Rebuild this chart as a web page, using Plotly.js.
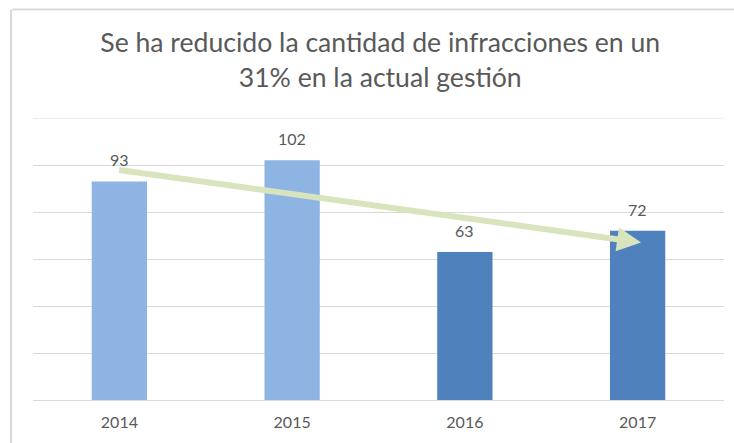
<!DOCTYPE html>
<html>
<head>
<meta charset="utf-8">
<script src="https://cdn.plot.ly/plotly-3.0.1.min.js"></script>
<style>
html,body{margin:0;padding:0;background:#fff;}
#chart{width:734px;height:443px;}
</style>
</head>
<body>
<div id="chart"></div>
<script>
var years = ['2014', '2015', '2016', '2017'];
var values = [93, 102, 63, 72];
var barColors = ['#8EB4E3', '#8EB4E3', '#4F81BD', '#4F81BD'];
var titleText = 'Se ha reducido la cantidad de infracciones en un<br>31% en la actual gestión';
var yMax = 120;
var trendStart = {x: -0.01, y: 98};
var trendEnd = {x: 3.02, y: 67};

var font = 'Lato, "Open Sans", sans-serif';

var trace = {
  type: 'bar',
  x: years,
  y: values,
  marker: {color: barColors, line: {width: 0}},
  hoverinfo: 'skip'
};

var labelAnns = years.map(function (yr, i) {
  return {
    x: i, y: values[i], xref: 'x', yref: 'y',
    text: String(values[i]), showarrow: false,
    yanchor: 'bottom', yshift: 10,
    font: {family: font, size: 16, color: '#595959'}
  };
});

var arrowAnn = {
  x: trendEnd.x, y: trendEnd.y, xref: 'x', yref: 'y',
  ax: trendStart.x, ay: trendStart.y, axref: 'x', ayref: 'y',
  text: '', showarrow: true,
  arrowhead: 2, arrowsize: 0.8, arrowwidth: 6,
  arrowcolor: '#D7E4BD', standoff: 0
};

var layout = {
  width: 734, height: 443,
  margin: {l: 33, r: 10, t: 118, b: 43},
  paper_bgcolor: '#ffffff',
  plot_bgcolor: '#ffffff',
  showlegend: false,
  bargap: 0.68,
  title: {
    text: titleText,
    font: {family: font, size: 26.6, color: '#595959'},
    x: 0.518, xanchor: 'center',
    y: 0.882, yanchor: 'top'
  },
  xaxis: {
    type: 'category',
    range: [-0.5, 3.5],
    autorange: false,
    showgrid: false,
    showline: false,
    ticks: 'outside',
    ticklen: 8,
    tickcolor: 'rgba(0,0,0,0)',
    tickfont: {family: font, size: 16, color: '#595959'},
    fixedrange: true
  },
  yaxis: {
    range: [0, yMax],
    autorange: false,
    dtick: 20,
    showticklabels: false,
    gridcolor: '#D9D9D9',
    gridwidth: 1,
    zeroline: true,
    zerolinecolor: '#D9D9D9',
    zerolinewidth: 1,
    fixedrange: true
  },
  annotations: labelAnns.concat([arrowAnn]),
  shapes: [
    {type: 'line', xref: 'paper', yref: 'y', x0: 0, x1: 1, y0: yMax, y1: yMax,
     line: {color: '#D9D9D9', width: 1}, layer: 'below'},
    {type: 'line', xref: 'paper', yref: 'paper', x0: -0.03, x1: 1.1, y0: 1.385, y1: 1.385,
     line: {color: '#D9D9D9', width: 2}},
    {type: 'line', xref: 'paper', yref: 'paper', x0: -0.0318, x1: -0.0318, y0: 1.385, y1: -0.2,
     line: {color: '#D9D9D9', width: 2}}
  ]
};

Plotly.newPlot('chart', [trace], layout, {displayModeBar: false, staticPlot: true});
</script>
</body>
</html>
